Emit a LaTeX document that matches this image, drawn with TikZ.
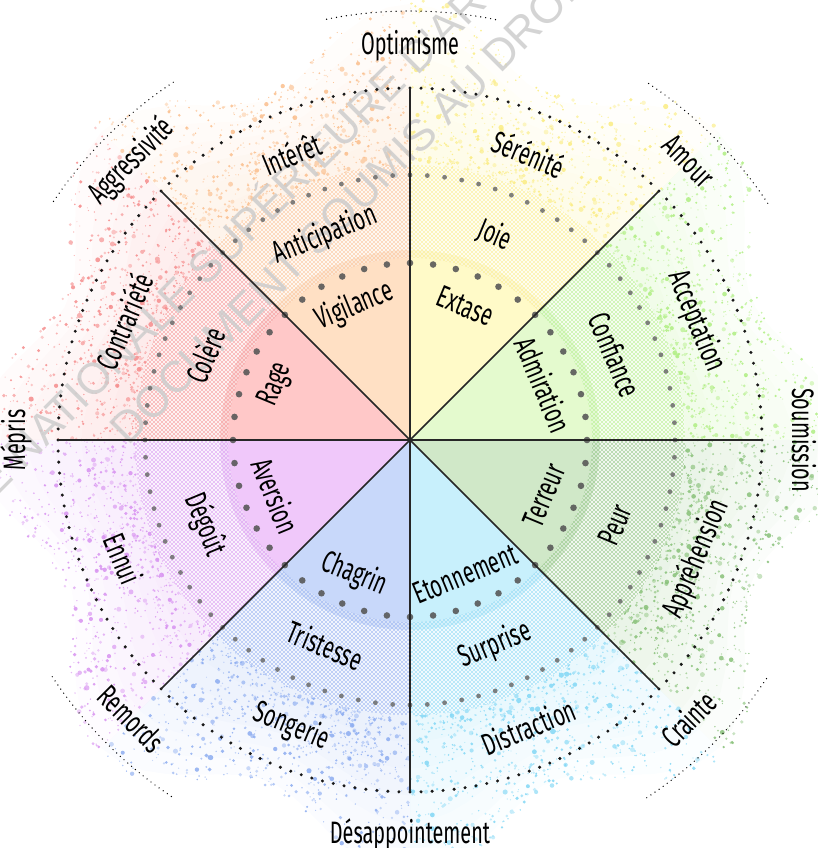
\documentclass[tikz,border=0pt]{standalone}
\usepackage{fontspec}
\setmainfont{Fira Sans}[FakeStretch=0.64]
\newfontfamily\wmfont{Liberation Sans}
\usetikzlibrary{patterns}
\pgfdeclarepatternformonly{mydots}{\pgfqpoint{-1pt}{-1pt}}{\pgfqpoint{3pt}{3pt}}{\pgfqpoint{4pt}{4pt}}{%
  \pgfpathcircle{\pgfqpoint{0pt}{0pt}}{0.85pt}%
  \pgfpathcircle{\pgfqpoint{2pt}{2pt}}{0.85pt}%
  \pgfusepath{fill}}
% solid inner colours (sector k spans 45k..45k+45 degrees)
\definecolor{sol0}{RGB}{228,250,206}
\definecolor{sol1}{RGB}{255,250,200}
\definecolor{sol2}{RGB}{255,224,196}
\definecolor{sol3}{RGB}{255,200,200}
\definecolor{sol4}{RGB}{240,200,250}
\definecolor{sol5}{RGB}{200,216,250}
\definecolor{sol6}{RGB}{200,240,252}
\definecolor{sol7}{RGB}{208,232,200}
% dot / speckle colours
\definecolor{hat0}{RGB}{175,238,130}
\definecolor{hat1}{RGB}{250,236,130}
\definecolor{hat2}{RGB}{250,190,140}
\definecolor{hat3}{RGB}{245,140,140}
\definecolor{hat4}{RGB}{215,145,240}
\definecolor{hat5}{RGB}{140,172,240}
\definecolor{hat6}{RGB}{130,215,245}
\definecolor{hat7}{RGB}{135,192,120}
\definecolor{wm}{RGB}{205,205,205}
\begin{document}
\begin{tikzpicture}[x=1pt,y=1pt,
  lbl/.style={font=\fontsize{31}{32}\selectfont, inner sep=0pt, text=black},
  spoke/.style={draw=black!85, line width=1.6pt},
  bigdot/.style={fill=black!65, fill opacity=0.9},
  middot/.style={fill=black!58, fill opacity=0.85},
  outdot/.style={fill=black!90},
  arcdots/.style={draw=black, line width=1.4pt, line cap=round, dash pattern=on 0pt off 5pt},
  wmtext/.style={font=\wmfont\fontsize{44}{50}\selectfont, text=wm, text opacity=0.85, inner sep=0pt}]
\useasboundingbox (-410,-408) rectangle (408,440);
\clip (-410,-408) rectangle (408,440);
\coordinate (O) at (0,0);

% ---------- faint colour haze behind the speckles ----------
\foreach \k in {0,...,7}{
  \foreach \s in {0.2,0.35,0.5,0.65,0.8,0.95}{
    \fill[hat\k, fill opacity=0.032]
      plot[domain=45*\k:45*\k+45, samples=16] (\x:{266+\s*(375+70*(1+cos(8*\x))/2-266)})
      -- (45*\k+45:266) arc[start angle=45*\k+45, end angle=45*\k, radius=266] -- cycle;
  }
}

% ---------- speckles (one path per colour and opacity level) ----------
\pgfmathsetseed{4242}
\foreach \k in {0,...,7}{
  \foreach \op in {0.45,0.65,0.85}{
    \fill[hat\k, fill opacity=\op] \foreach \i in {1,...,330}{
      \pgfextra{%
        \pgfmathsetmacro\th{45*\k+45*rnd}%
        \pgfmathsetmacro\rmax{375+70*(1+cos(8*\th))/2}%
        \pgfmathsetmacro\u{rnd}%
        \pgfmathsetmacro\rr{264+(\rmax-264)*\u*(0.25+0.75*\u)}%
        \pgfmathsetmacro\sz{0.6+2.2*rnd*rnd}}
      (\th:\rr) circle (\sz)};
  }
}

% ---------- sectors ----------
\foreach \k in {0,...,7}{
  \pgfmathsetmacro\a{45*\k}
  \pgfmathsetmacro\b{45*\k+45}
  \fill[hat\k!12] (\a:275) arc[start angle=\a, end angle=\b, radius=275] -- (\b:176) arc[start angle=\b, end angle=\a, radius=176] -- cycle;
  \fill[pattern=mydots, pattern color=hat\k] (\a:275) arc[start angle=\a, end angle=\b, radius=275] -- (\b:176) arc[start angle=\b, end angle=\a, radius=176] -- cycle;
  \fill[hat\k, fill opacity=0.25] (\a:190) arc[start angle=\a, end angle=\b, radius=190] -- (\b:176) arc[start angle=\b, end angle=\a, radius=176] -- cycle;
  \fill[sol\k] (O) -- (\a:182) arc[start angle=\a, end angle=\b, radius=182] -- cycle;
}

% ---------- watermark ----------
\node[wmtext, anchor=west, rotate=45] (wm1) at (-514,-131) {ÉCOLE NATIONALE SUPÉRIEURE D'ARCHITECTURE};
\node[wmtext, anchor=west, rotate=45] (wm2) at (-292,4) {DOCUMENT SOUMIS AU DROIT D'AUTEUR};

% ---------- dotted circles ----------
\foreach \i in {0,...,47} \fill[bigdot] (\i*7.5:177) circle (3.3);
\foreach \i in {0,...,95} \fill[middot] (\i*3.75:265) circle (2.4);
\foreach \i in {0,...,199} \fill[outdot] (\i*1.8:352) circle (1.7);

% ---------- outer dotted arcs ----------
\foreach \c in {90,45,135,-45,-135}
  \draw[arcdots] (\c-11.5:429) arc[start angle=\c-11.5, end angle=\c+11.5, radius=429];

% ---------- spokes ----------
\foreach \a in {0,45,...,315}
  \draw[spoke] (O) -- (\a:352);

% ---------- labels ----------
\foreach \t/\rot/\txt/\nm in {112.5/22.5/Vigilance/vig, 67.5/-22.5/Extase/ext, 22.5/-67.5/Admiration/adm, -22.5/67.5/Terreur/ter, -67.5/22.5/Etonnement/eto, -112.5/-22.5/Chagrin/cha, -157.5/-67.5/Aversion/ave, 157.5/67.5/Rage/rag}
  \node[lbl, rotate=\rot] (\nm) at (\t:145) {\txt};
\foreach \t/\rot/\txt/\nm in {112.5/22.5/Anticipation/ant, 67.5/-22.5/Joie/joi, 22.5/-67.5/Confiance/con, -22.5/67.5/Peur/peu, -67.5/22.5/Surprise/sur, -112.5/-22.5/Tristesse/tri, -157.5/-67.5/Dégoût/deg, 157.5/67.5/Colère/col}
  \node[lbl, rotate=\rot] (\nm) at (\t:222) {\txt};
\foreach \t/\rot/\txt/\nm in {112.5/22.5/Intérêt/int, 67.5/-22.5/Sérénité/ser, 22.5/-67.5/Acceptation/acc, -22.5/67.5/Appréhension/app, -67.5/22.5/Distraction/dis, -112.5/-22.5/Songerie/son, -157.5/-67.5/Ennui/enn, 157.5/67.5/Contrariété/ctr}
  \node[lbl, rotate=\rot] (\nm) at (\t:310) {\txt};
\foreach \t/\rot/\txt/\nm in {90/0/Optimisme/opt, 45/-45/Amour/amo, 0/-90/Soumission/sou, -45/45/Crainte/cra, -90/0/Désappointement/des, -135/-45/Remords/rem, 180/90/Mépris/mep, 135/45/Aggressivité/agg}
  \node[lbl, rotate=\rot] (\nm) at (\t:394) {\txt};
\end{tikzpicture}
\end{document}
